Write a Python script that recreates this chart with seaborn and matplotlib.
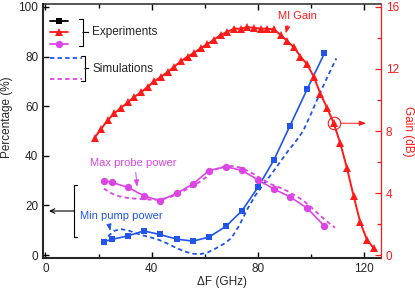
import numpy as np
import pandas as pd
import matplotlib
matplotlib.use("Agg")
import matplotlib.pyplot as plt
from matplotlib.lines import Line2D
from matplotlib.ticker import MultipleLocator
import seaborn as sns

# experiments (left axis, %)
exp_ghz = [22, 25, 31, 37, 43, 49.5, 55.5, 61.5, 68, 74, 80, 86, 92, 98.5, 105]
pump_exp = [5.4, 6.3, 7.7, 9.7, 8.3, 6.4, 5.6, 7.2, 11.6, 17.9, 27.3, 38.3, 52.0, 66.8, 81.3]
probe_exp = [29.8, 29.3, 27.3, 23.9, 21.9, 24.9, 28.6, 34.0, 35.6, 34.1, 30.3, 26.6, 23.5, 18.9, 11.7]

# simulations (left axis, %)
sim_pump_ghz = [22, 24, 26, 28.5, 31, 34, 37, 40, 43, 46, 49, 52, 55, 58, 61, 64, 67, 70,
                73, 76, 79, 82, 85, 88, 91, 94, 97, 100, 103, 106, 109.5]
pump_sim = [5.0, 8.0, 9.8, 10.4, 10.0, 8.8, 7.8, 7.0, 6.0, 4.6, 3.0, 1.6, 0.6, 0.3, 1.0, 2.6,
            4.4, 6.8, 12.0, 18.5, 24.0, 28.5, 32.5, 37.0, 41.5, 45.5, 50.0, 57.0, 64.5, 71.5, 79.3]
sim_probe_ghz = [22, 25, 28, 31, 34, 37, 40, 43, 46, 49, 52, 55, 58, 61, 64, 67, 70, 73,
                 76, 79, 82, 85, 88, 91, 94, 97, 100, 103, 106, 109]
probe_sim = [26.8, 24.8, 23.6, 23.0, 22.7, 22.5, 22.3, 22.4, 23.0, 24.2, 25.8, 27.6, 29.4,
             31.8, 34.6, 35.6, 35.9, 35.3, 34.0, 32.3, 30.3, 28.5, 27.3, 25.8, 24.0, 22.0,
             19.3, 16.3, 13.5, 11.0]

# MI gain (right axis, dB)
gain_ghz = [18.5, 21, 23.5, 26, 28.5, 31, 33.5, 36, 38.5, 41, 43.5, 46, 48.5, 51, 53.5, 56,
            58.5, 61, 63.5, 66, 68.5, 71, 73.5, 76, 78.5, 81, 83.5, 86, 88.5, 91, 93.5, 96,
            98.5, 101, 103.5, 106, 108.5, 111, 113.5, 116, 118.5, 121, 123.5]
gain_db = [7.55, 8.15, 8.7, 9.15, 9.5, 9.85, 10.2, 10.5, 10.85, 11.2, 11.5, 11.8, 12.15, 12.5,
           12.8, 13.05, 13.35, 13.6, 13.9, 14.2, 14.4, 14.6, 14.6, 14.7, 14.65, 14.6, 14.6,
           14.55, 14.2, 13.8, 13.4, 12.8, 12.3, 11.5, 10.4, 9.5, 8.5, 7.2, 5.6, 3.8, 2.1, 1.0, 0.45]
circled = 36

blue = '#2155ea'
magenta = '#dc45e4'
red = '#ff1a1a'
dash = (0, (2.4, 1.8))

sns.set_style('ticks')
plt.rcParams['font.family'] = ['Liberation Sans', 'DejaVu Sans']

fig, ax = plt.subplots(figsize=(4.15, 2.89), dpi=100)
fig.subplots_adjust(left=43/415, right=381/415, bottom=1-258/289, top=1-4/289)

sns.lineplot(x=sim_pump_ghz, y=pump_sim, ax=ax, color=blue, lw=1.3, linestyle=dash)
sns.lineplot(x=sim_probe_ghz, y=probe_sim, ax=ax, color=magenta, lw=1.3, linestyle=dash)
sns.lineplot(x=exp_ghz, y=pump_exp, ax=ax, color=blue, lw=1.2, marker='s', ms=4.8,
             markeredgecolor=blue, markeredgewidth=0)
sns.lineplot(x=exp_ghz, y=probe_exp, ax=ax, color=magenta, lw=1.2, marker='o', ms=5.3,
             markeredgecolor=magenta, markeredgewidth=0)

ax.set_xlim(-0.9, 126.3)
ax.set_ylim(-1.2, 101.2)
ax.xaxis.set_major_locator(MultipleLocator(40))
ax.xaxis.set_minor_locator(MultipleLocator(20))
ax.yaxis.set_major_locator(MultipleLocator(20))
ax.tick_params(which='both', direction='in', top=True, right=False, width=1.0,
               labelsize=8.5, pad=3.5, color='k')
ax.tick_params(which='major', length=4.5)
ax.tick_params(which='minor', length=3)
ax.set_xlabel('ΔF (GHz)', fontsize=8.5)
ax.set_ylabel('Percentage (%)', fontsize=8.5)
ax.xaxis.set_label_coords(0.53, -0.072)
ax.yaxis.set_label_coords(-0.089, 0.553)
for s in ['left', 'bottom']:
    ax.spines[s].set_linewidth(1.5)
ax.spines['top'].set_linewidth(1.1)
ax.spines['right'].set_visible(False)

ax2 = ax.twinx()
sns.lineplot(x=gain_ghz, y=gain_db, ax=ax2, color=red, lw=1.4, marker='^', ms=6.3,
             markeredgecolor=red, markeredgewidth=0)
ax2.plot(gain_ghz[circled], gain_db[circled], marker='o', ms=9, mfc='none', mec=red, mew=0.8)
ax2.annotate('', xy=(120.7, gain_db[circled]), xytext=(gain_ghz[circled], gain_db[circled]),
             arrowprops=dict(arrowstyle='-|>, head_length=0.8, head_width=0.3', color=red,
                             lw=0.7, shrinkA=5, shrinkB=0, mutation_scale=5))
ax2.set_ylim(-0.19, 16.19)
ax2.yaxis.set_major_locator(MultipleLocator(4))
ax2.yaxis.set_minor_locator(MultipleLocator(2))
ax2.tick_params(which='both', direction='in', colors=red, labelsize=8.5, pad=3.5, width=0.9)
ax2.tick_params(which='major', length=4.5)
ax2.tick_params(which='minor', length=3)
ax2.set_ylabel('Gain (dB)', color=red, fontsize=8.5, rotation=270, labelpad=11)
ax2.spines['right'].set_color(red)
ax2.spines['right'].set_linewidth(0.9)
for s in ['left', 'top', 'bottom']:
    ax2.spines[s].set_visible(False)

# legends: keys only, grouped by brackets
exp_keys = [Line2D([], [], color='k', marker='s', ms=4.8, lw=1.3, mew=0),
            Line2D([], [], color=red, marker='^', ms=6.3, lw=1.3, mew=0),
            Line2D([], [], color=magenta, marker='o', ms=5.3, lw=1.3, mew=0)]
sim_keys = [Line2D([], [], color=blue, lw=1.3, linestyle=dash),
            Line2D([], [], color=magenta, lw=1.3, linestyle=dash)]
leg1 = ax.legend(exp_keys, ['', '', ''], loc='center left', bbox_to_anchor=(0.021, 0.884),
                 frameon=False, fontsize=6, handlelength=2.16, handletextpad=0,
                 labelspacing=0.42, borderpad=0, borderaxespad=0)
ax.add_artist(leg1)
ax.legend(sim_keys, ['', ''], loc='center left', bbox_to_anchor=(0.021, 0.742),
          frameon=False, fontsize=6, handlelength=3.84, handletextpad=0,
          labelspacing=1.58, borderpad=0, borderaxespad=0)

ax.annotate('Experiments', xy=(0.118, 0.888), xytext=(0.145, 0.888), xycoords='axes fraction',
            fontsize=8.5, va='center', ha='left',
            arrowprops=dict(arrowstyle='-[, widthB=1.0, lengthB=0.3', mutation_scale=10,
                            lw=0.8, color='k', shrinkA=0, shrinkB=0, relpos=(0, 0.5)))
ax.annotate('Simulations', xy=(0.124, 0.746), xytext=(0.145, 0.746), xycoords='axes fraction',
            fontsize=8.5, va='center', ha='left',
            arrowprops=dict(arrowstyle='-[, widthB=0.93, lengthB=0.3', mutation_scale=10,
                            lw=0.8, color='k', shrinkA=0, shrinkB=0, relpos=(0, 0.5)))
ax.annotate('', xy=(0.092, 0.185), xytext=(0.018, 0.185), xycoords='axes fraction',
            arrowprops=dict(arrowstyle='<-[, widthB=2.3, lengthB=0.25',
                            mutation_scale=8, lw=0.8, color='k', shrinkA=0, shrinkB=0))

arrow = dict(arrowstyle='-|>, head_length=0.8, head_width=0.3', lw=0.7, shrinkA=1, shrinkB=0,
             mutation_scale=5)
ax.annotate('Max probe power', xy=(34.5, 27.5), xytext=(33.2, 37.2), color=magenta,
            fontsize=8, ha='center', va='center',
            arrowprops=dict(arrow, color=magenta, relpos=(0.52, 0)))
ax.annotate('Min pump power', xy=(24.4, 9.7), xytext=(28.7, 15.7), color=blue,
            fontsize=8, ha='center', va='center',
            arrowprops=dict(arrow, color=blue, relpos=(0.34, 0)))
ax.annotate('MI Gain', xy=(90.4, 89.4), xytext=(94.7, 96.4), color=red,
            fontsize=8, ha='center', va='center',
            arrowprops=dict(arrow, color=red, relpos=(0.3, 0)))

fig.savefig('out.png', dpi=100)
